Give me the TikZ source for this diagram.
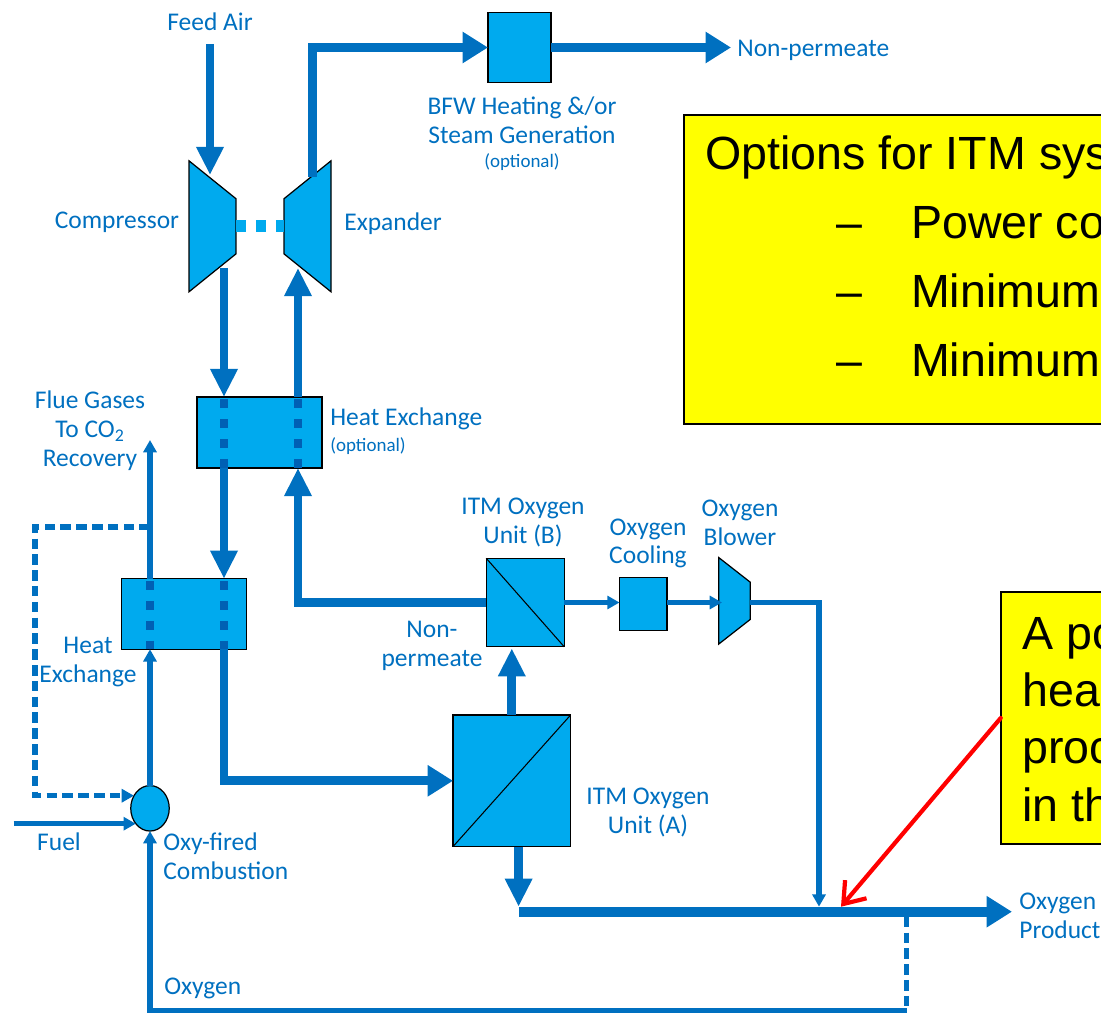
\documentclass[tikz,border=0pt]{standalone}
\usepackage{fontspec}
\setmainfont{Liberation Sans}
\newfontfamily\flowfont{Carlito}
\usetikzlibrary{arrows.meta,shapes.geometric}
\definecolor{pipeblue}{RGB}{0,112,192}
\definecolor{darkblue}{RGB}{0,96,180}
\definecolor{unitblue}{RGB}{0,170,238}
\definecolor{noteyellow}{RGB}{255,255,0}
\tikzset{
	unit/.style={draw=black,fill=unitblue,line width=0.7pt,inner sep=0pt,outer sep=0pt},
	turbine/.style={unit,trapezium,inner sep=1pt,trapezium stretches=true},
	lbl/.style={text=pipeblue,font=\flowfont\fontsize{14.5}{16.4}\selectfont,align=center,inner sep=0pt},
	lblsmall/.style={text=pipeblue,font=\flowfont\fontsize{10.8}{12}\selectfont,inner sep=0pt},
	notebox/.style={draw=black,fill=noteyellow,line width=1.1pt,anchor=north west,inner sep=0pt,outer sep=0pt},
	notetext/.style={font=\fontsize{26.5}{30}\selectfont,anchor=base west,inner sep=0pt},
	bigflow/.style={draw=pipeblue,line width=5pt,-{Triangle[length=16pt,width=14.7pt]}},
	wideflow/.style={draw=pipeblue,line width=5pt,-{Triangle[length=14.5pt,width=17pt]}},
	thinflow/.style={draw=pipeblue,line width=3pt,-{Triangle[length=7pt,width=7.4pt]}},
	bypass/.style={draw=pipeblue,line width=3pt,dash pattern=on 6pt off 3pt},
	through/.style={draw=darkblue,dash pattern=on 5.1pt off 6.2pt,dash phase=10pt}
}
\begin{document}
\begin{tikzpicture}[x=0.02cm,y=-0.02cm]
	\useasboundingbox (0,0) rectangle (1101,1013);
	\clip (0,0) rectangle (1101,1013);

	\node[turbine,rotate=-90,trapezium angle=55.5,minimum width=2.62cm,minimum height=0.94cm] (comp) at (212.5,226.3) {};
	\node[turbine,rotate=90,trapezium angle=55.5,minimum width=2.62cm,minimum height=0.94cm] (expd) at (307.5,226.3) {};
	\node[turbine,rotate=-90,trapezium angle=56.5,minimum width=1.73cm,minimum height=0.63cm] (blow) at (734.5,600.8) {};
	\node[unit,minimum width=1.26cm,minimum height=1.41cm] (bfw) at (519.5,47.5) {};
	\node[unit,minimum width=2.5cm,minimum height=1.42cm] (hxa) at (259.5,432.5) {};
	\node[unit,minimum width=2.5cm,minimum height=1.41cm] (hxb) at (184,614) {};
	\node[unit,minimum width=1.56cm,minimum height=1.77cm] (itmb) at (525.2,602.5) {};
	\node[unit,minimum width=2.35cm,minimum height=2.63cm] (itma) at (511.8,780.8) {};
	\node[unit,minimum width=0.95cm,minimum height=1.07cm] (cool) at (643.3,604) {};
	\node[unit,ellipse,minimum width=0.77cm,minimum height=0.91cm] (burn) at (150,808.3) {};
	\draw[line width=0.6pt] (itmb.north west) -- (itmb.south east);
	\draw[line width=0.6pt] (itma.south west) -- (itma.north east);

	\coordinate (feedtop) at (210,44);
	\coordinate (feedtip) at (210,175);
	\coordinate (compout) at (224,268);
	\coordinate (expin) at (298,268);
	\coordinate (expout) at (312.5,177);
	\coordinate (fluetip) at (150,440);
	\coordinate (fluebr) at (150,527);
	\coordinate (burnin) at (134,795.7);
	\coordinate (fuelin) at (13.6,823.7);
	\coordinate (fueltip) at (135.8,823.7);
	\coordinate (blowin) at (722,602.5);
	\coordinate (blowout) at (750,602.5);
	\coordinate (blowtip) at (819,906.7);
	\coordinate (prodin) at (518.6,911.7);
	\coordinate (prodtip) at (1012,911.7);
	\coordinate (itmadown) at (518.6,846.7);
	\coordinate (itmatip) at (518.6,906.7);
	\coordinate (itmaup) at (511.8,715);
	\coordinate (itmbin) at (511.8,648.3);
	\coordinate (nonout) at (731,47.5);
	\coordinate (recyc) at (906.5,916.7);
	\coordinate (recycb) at (906.5,1010.5);
	\coordinate (redtip) at (841,906.7);

	\draw[draw=unitblue,line width=6.8pt,dash pattern=on 5.67pt off 5.67pt] (comp.north) -- (expd.north);
	\draw[bigflow] (feedtop) -- (feedtip);
	\draw[wideflow] (expout) |- (bfw.west);
	\draw[wideflow] (bfw.east) -- (nonout);
	\draw[bigflow] (compout) -- (compout |- hxa.north);
	\draw[bigflow] (expin |- hxa.north) -- (expin);
	\draw[bigflow] (compout |- hxa.south) -- (compout |- hxb.north);
	\draw[bigflow] (itmb.west) -| (expin |- hxa.south);
	\draw[wideflow] (compout |- hxb.south) |- (itma.west);
	\draw[bigflow] (itmaup) -- (itmbin);
	\draw[bigflow] (itmadown) -- (itmatip);
	\draw[wideflow,line width=5.6pt] (prodin) -- (prodtip);

	\draw[through,line width=5pt] (compout |- hxa.north) -- (compout |- hxa.south);
	\draw[through,line width=5pt] (expin |- hxa.north) -- (expin |- hxa.south);
	\draw[through,line width=5pt] (compout |- hxb.north) -- (compout |- hxb.south);
	\draw[through,line width=5pt] (burn |- hxb.north) -- (burn |- hxb.south);

	\draw[thinflow] (burn.north) -- (burn |- hxb.south);
	\draw[thinflow] (burn |- hxb.north) -- (fluetip);
	\draw[bypass,-{Triangle[length=7pt,width=7.4pt]}] (fluebr) -- ++(-115,0) |- (burnin);
	\draw[thinflow] (fuelin) -- (fueltip);
	\draw[thinflow] (itmb.east) -- (itmb.east -| cool.west);
	\draw[thinflow] (cool.east |- itmb.east) -- (blowin);
	\draw[thinflow] (blowout) -| (blowtip);
	\draw[bypass] (recyc) -- (recycb);
	\draw[thinflow] (recycb) -| (burn.south);

	\node[lbl] (feedair) at (210,22) {Feed Air};
	\node[lbl] (lblcomp) at (117,222) {Compressor};
	\node[lbl,anchor=west] (lblexp) at (344,224) {Expander};
	\node[lbl,anchor=west] (lblnon) at (737,50) {Non-permeate};
	\node[lbl] (lblbfw) at (522,120) {BFW Heating \&/or\\Steam Generation};
	\node[lblsmall] (lblbfwopt) at (522,162) {(optional)};
	\node[lbl,anchor=west] (lblhxa) at (330,419) {Heat Exchange};
	\node[lblsmall,anchor=west] (lblhxaopt) at (330,446) {(optional)};
	\node[lbl] (lblflue) at (90,430.5) {Flue Gases\\To CO\textsubscript{2}\\Recovery};
	\node[lbl] (lblitmb) at (523,522.5) {ITM Oxygen\\Unit (B)};
	\node[lbl] (lblcool) at (648,543.5) {Oxygen\\Cooling};
	\node[lbl] (lblblow) at (740,522.5) {Oxygen\\Blower};
	\node[lbl] (lblperm) at (432,646) {Non-\\permeate};
	\node[lbl] (lblhxb) at (88,662) {Heat\\Exchange};
	\node[lbl] (lblitma) at (648,812.5) {ITM Oxygen\\Unit (A)};
	\node[lbl] (lblfuel) at (59,842) {Fuel};
	\node[lbl,anchor=west,align=left] (lblburn) at (163,856.5) {Oxy-fired\\Combustion};
	\node[lbl,anchor=west] (lbloxy) at (164,988) {Oxygen};
	\node[lbl,anchor=west,align=left] (lblprod) at (1019,916) {Oxygen\\Product};

	\node[notebox,minimum width=10cm,minimum height=6.18cm] (optbox) at (683.7,115) {};
	\node[notetext] (opthead) at (705,170) {Options for ITM sys};
	\node[notetext] (optdasha) at (836,238.3) {--};
	\node[notetext] (opta) at (910.7,238.3) {Power co};
	\node[notetext] (optdashb) at (836,307.7) {--};
	\node[notetext] (optb) at (910.7,307.7) {Minimum};
	\node[notetext] (optdashc) at (836,376.7) {--};
	\node[notetext] (optc) at (910.7,376.7) {Minimum};

	\node[notebox,minimum width=4cm,minimum height=5.03cm] (notebx) at (1000.7,592.3) {};
	\node[notetext] (notea) at (1022,649) {A po};
	\node[notetext] (noteb) at (1022,706.7) {hea};
	\node[notetext] (notec) at (1022,763) {proc};
	\node[notetext] (noted) at (1022,821.7) {in th};

	\draw[red,line width=2.4pt,line cap=round,-{Straight Barb[length=11pt,width=16pt]}] (notebx.west) -- (redtip);
\end{tikzpicture}
\end{document}
